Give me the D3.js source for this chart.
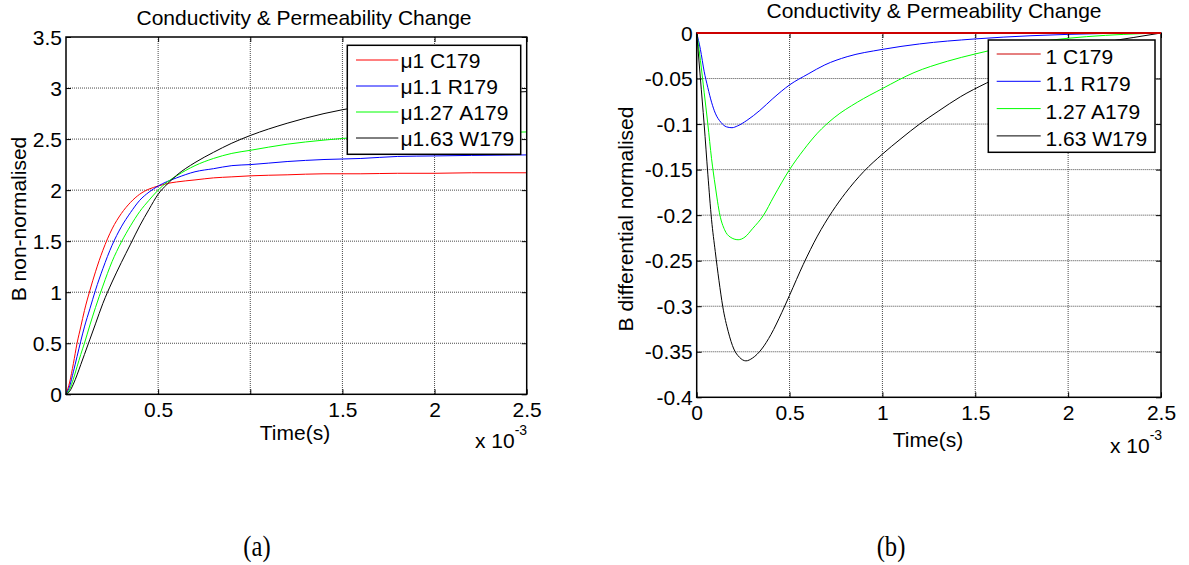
<!DOCTYPE html>
<html><head><meta charset="utf-8">
<script src="https://cdn.jsdelivr.net/npm/d3@7"></script>
<style>
body{margin:0;background:#fff}
svg text{font-family:"Liberation Sans",Arial,sans-serif;fill:#000}
</style>
</head><body>
<svg id="c" width="1189" height="565"></svg>
<script>
// ---------- data: panel (a) B non-normalised ----------
const timeA = [0,0.02,0.04,0.06,0.08,0.1,0.13,0.16,0.2,0.25,0.3,0.35,0.4,0.45,0.5,0.55,0.6,0.7,0.8,0.9,1.0,1.2,1.4,1.6,1.8,2.0,2.2,2.5];
const bC179 = [0,0.12,0.3,0.5,0.66,0.82,1.02,1.2,1.41,1.62,1.77,1.88,1.96,2.01,2.04,2.065,2.08,2.1,2.12,2.13,2.14,2.15,2.16,2.16,2.165,2.165,2.17,2.17];
const bR179 = [0,0.08,0.22,0.37,0.52,0.66,0.84,1.02,1.23,1.46,1.64,1.78,1.9,1.98,2.04,2.085,2.12,2.18,2.21,2.24,2.25,2.28,2.3,2.31,2.33,2.335,2.34,2.345];
const bA179 = [0,0.05,0.15,0.27,0.39,0.5,0.68,0.85,1.06,1.3,1.49,1.65,1.79,1.9,2.0,2.08,2.14,2.24,2.31,2.36,2.39,2.45,2.49,2.52,2.54,2.55,2.56,2.57];
const bW179 = [0,0.03,0.1,0.19,0.29,0.39,0.54,0.69,0.89,1.1,1.29,1.47,1.65,1.81,1.96,2.06,2.145,2.27,2.37,2.46,2.535,2.655,2.75,2.82,2.875,2.915,2.94,2.965];
const legendA = ["\u03bc1 C179","\u03bc1.1 R179","\u03bc1.27 A179","\u03bc1.63 W179"];
const xTicksA = [0.5,1,1.5,2,2.5];
const xTickLabelsA = ["0.5","","1.5","2","2.5"];
const yTicksA = [0,0.5,1,1.5,2,2.5,3,3.5];
const yTickLabelsA = ["0","0.5","1","1.5","2","2.5","3","3.5"];

// ---------- data: panel (b) B differential normalised ----------
const timeC = [0,2.5];
const dC179 = [0,0];
const timeR = [0,0.02,0.04,0.06,0.08,0.1,0.13,0.16,0.19,0.22,0.27,0.34,0.41,0.5,0.6,0.69,0.81,1.0,1.2,1.5,1.8,2.0,2.2,2.5];
const dR179 = [0,-0.018,-0.042,-0.06,-0.076,-0.088,-0.098,-0.103,-0.104,-0.102,-0.096,-0.085,-0.072,-0.057,-0.045,-0.035,-0.026,-0.018,-0.012,-0.0065,-0.003,-0.0015,-0.0005,0];
const timeG = [0,0.02,0.04,0.06,0.08,0.1,0.125,0.15,0.18,0.223,0.26,0.3,0.36,0.414,0.5,0.577,0.65,0.74,0.865,1.0,1.17,1.35,1.5,1.7,1.9,2.1,2.3,2.5];
const dA179 = [0,-0.03,-0.065,-0.1,-0.138,-0.168,-0.2,-0.216,-0.224,-0.227,-0.224,-0.215,-0.2,-0.18,-0.15,-0.128,-0.11,-0.093,-0.076,-0.061,-0.0435,-0.031,-0.023,-0.014,-0.008,-0.004,-0.0015,0];
const timeW = [0,0.02,0.04,0.06,0.08,0.1,0.12,0.14,0.17,0.2,0.23,0.265,0.3,0.35,0.4,0.458,0.5,0.574,0.65,0.73,0.8,0.9,1.0,1.1,1.2,1.3,1.42,1.56,1.7,1.85,2.0,2.2,2.35,2.5];
const dW179 = [0,-0.05,-0.1,-0.155,-0.205,-0.24,-0.272,-0.3,-0.328,-0.347,-0.356,-0.36,-0.357,-0.347,-0.331,-0.307,-0.288,-0.254,-0.223,-0.196,-0.176,-0.152,-0.133,-0.116,-0.1,-0.086,-0.07,-0.055,-0.042,-0.03,-0.02,-0.01,-0.005,0];
const legendB = ["1 C179","1.1 R179","1.27 A179","1.63 W179"];
const xTicksB = [0,0.5,1,1.5,2,2.5];
const xTickLabelsB = ["0","0.5","1","1.5","2","2.5"];
const yTicksB = [0,-0.05,-0.1,-0.15,-0.2,-0.25,-0.3,-0.35,-0.4];
const yTickLabelsB = ["0","-0.05","-0.1","-0.15","-0.2","-0.25","-0.3","-0.35","-0.4"];

const colorsA = ["#ff0000","#0000ff","#00ff00","#000000"];
const colorsB = ["#cc0000","#0000ff","#00ff00","#000000"];

const svg = d3.select("#c");
const FS = 21;

function panel(o){
  const colors = o.colors;
  const g = svg.append("g");
  const x = d3.scaleLinear().domain(o.xDomain).range([o.x0,o.x1]);
  const y = d3.scaleLinear().domain(o.yDomain).range([o.y1,o.y0]);
  // grid
  const grid = g.append("g").attr("stroke","#4a4a4a").attr("stroke-width",1).attr("stroke-dasharray","1,1");
  o.xTicks.filter(v=>v>o.xDomain[0] && v<o.xDomain[1]).forEach(v=>{
    grid.append("line").attr("x1",x(v)).attr("x2",x(v)).attr("y1",o.y0).attr("y2",o.y1);
  });
  o.yTicks.filter(v=>v>d3.min(o.yDomain) && v<d3.max(o.yDomain)).forEach(v=>{
    grid.append("line").attr("x1",o.x0).attr("x2",o.x1).attr("y1",y(v)).attr("y2",y(v));
  });
  // series
  const line = d3.line().x(d=>x(d[0])).y(d=>y(d[1])).curve(d3.curveMonotoneX);
  o.series.forEach((s,i)=>{
    g.append("path").datum(s.t.map((t,j)=>[t,s.v[j]]))
      .attr("fill","none").attr("stroke",colors[i]).attr("stroke-width",1)
      .attr("d",line);
  });
  // axes
  const fmtX = d=>o.xLabels[o.xTicks.indexOf(d)];
  const fmtY = d=>o.yLabels[o.yTicks.indexOf(d)];
  const ax = g.append("g").attr("transform",`translate(0,${o.y1})`)
    .call(d3.axisBottom(x).tickValues(o.xTicks).tickFormat(fmtX).tickSize(-5).tickSizeOuter(0).tickPadding(8));
  const ay = g.append("g").attr("transform",`translate(${o.x0},0)`)
    .call(d3.axisLeft(y).tickValues(o.yTicks).tickFormat(fmtY).tickSize(-5).tickSizeOuter(0).tickPadding(4));
  const at = g.append("g").attr("transform",`translate(0,${o.y0})`)
    .call(d3.axisTop(x).tickValues(o.xTicks).tickFormat("").tickSize(-5).tickSizeOuter(0));
  const ar = g.append("g").attr("transform",`translate(${o.x1},0)`)
    .call(d3.axisRight(y).tickValues(o.yTicks).tickFormat("").tickSize(-5).tickSizeOuter(0));
  [ax,ay,at,ar].forEach(a=>{
    a.select(".domain").remove();
    a.selectAll("text").attr("font-size",FS).attr("font-family","Liberation Sans, Arial, sans-serif").attr("fill","#000");
    a.selectAll("line").attr("stroke","#000");
  });
  ay.selectAll("text").attr("dy","0.34em");
  // box
  g.append("rect").attr("x",o.x0).attr("y",o.y0).attr("width",o.x1-o.x0).attr("height",o.y1-o.y0)
    .attr("fill","none").attr("stroke","#000").attr("stroke-width",1.5);
  if (o.topSeries){
    const s=o.topSeries;
    g.append("path").datum(s.t.map((t,j)=>[t,s.v[j]])).attr("fill","none")
      .attr("stroke",colors[0]).attr("stroke-width",2).attr("d",line);
  }
  // title
  g.append("text").attr("x",o.titleX).attr("y",o.titleY).attr("text-anchor","middle")
    .attr("font-size",FS).text("Conductivity & Permeability Change");
  // axis labels
  g.append("text").attr("x",o.xlabX).attr("y",o.xlabY).attr("text-anchor","middle")
    .attr("font-size",FS).text("Time(s)");
  g.append("text").attr("transform",`translate(${o.ylabX},${o.ylabY}) rotate(-90)`)
    .attr("text-anchor","middle").attr("font-size",FS).text(o.ylab);
  // exponent
  const e = g.append("text").attr("x",o.expX).attr("y",o.expY).attr("font-size",FS);
  e.append("tspan").text("x 10");
  e.append("tspan").attr("dy",-13).attr("font-size",14).text("-3");
  // legend
  const L = o.legend;
  const lg = g.append("g");
  lg.append("rect").attr("x",L.x).attr("y",L.y).attr("width",L.w).attr("height",L.h)
    .attr("fill","#fff").attr("stroke","#000").attr("stroke-width",1.5);
  o.legendLabels.forEach((lab,i)=>{
    const yy = L.row0 + i*L.dy;
    lg.append("line").attr("x1",L.lx0).attr("x2",L.lx1).attr("y1",yy).attr("y2",yy)
      .attr("stroke",colors[i]).attr("stroke-width",1);
    lg.append("text").attr("x",L.tx).attr("y",yy+L.tdy).attr("font-size",FS).text(lab);
  });
}

panel({
  colors:colorsA,
  x0:66,x1:526.7,y0:37,y1:394.3,xDomain:[0,2.5],yDomain:[0,3.5],
  xTicks:xTicksA,xLabels:xTickLabelsA,yTicks:yTicksA,yLabels:yTickLabelsA,
  series:[{t:timeA,v:bC179},{t:timeA,v:bR179},{t:timeA,v:bA179},{t:timeA,v:bW179}],
  titleX:304,titleY:25,xlabX:295,xlabY:440,ylabX:26,ylabY:219,ylab:"B non-normalised",
  expX:475,expY:448,
  legendLabels:legendA,
  legend:{x:347.3,y:45.3,w:173.4,h:109,row0:60,dy:26,lx0:356,lx1:398.3,tx:400.5,tdy:8}
});
panel({
  colors:colorsB,
  x0:696.7,x1:1161,y0:33,y1:397.3,xDomain:[0,2.5],yDomain:[-0.4,0],
  xTicks:xTicksB,xLabels:xTickLabelsB,yTicks:yTicksB,yLabels:yTickLabelsB,
  series:[{t:timeC,v:dC179},{t:timeR,v:dR179},{t:timeG,v:dA179},{t:timeW,v:dW179}],
  topSeries:{t:timeC,v:dC179},
  titleX:934,titleY:18,xlabX:928,xlabY:447,ylabX:633,ylabY:219,ylab:"B differential normalised",
  expX:1110,expY:453,
  legendLabels:legendB,
  legend:{x:988.3,y:40,w:166.7,h:112.3,row0:54,dy:27.3,lx0:996.7,lx1:1040.7,tx:1045.5,tdy:10}
});

// panel captions
[["(a)",257],["(b)",891]].forEach(([lab,cx])=>{
  svg.append("text").attr("transform",`translate(${cx},556) scale(0.82,1)`).attr("text-anchor","middle")
    .style("font-family","'Liberation Serif','Times New Roman',serif").attr("font-size",30).text(lab);
});
</script>
</body></html>
